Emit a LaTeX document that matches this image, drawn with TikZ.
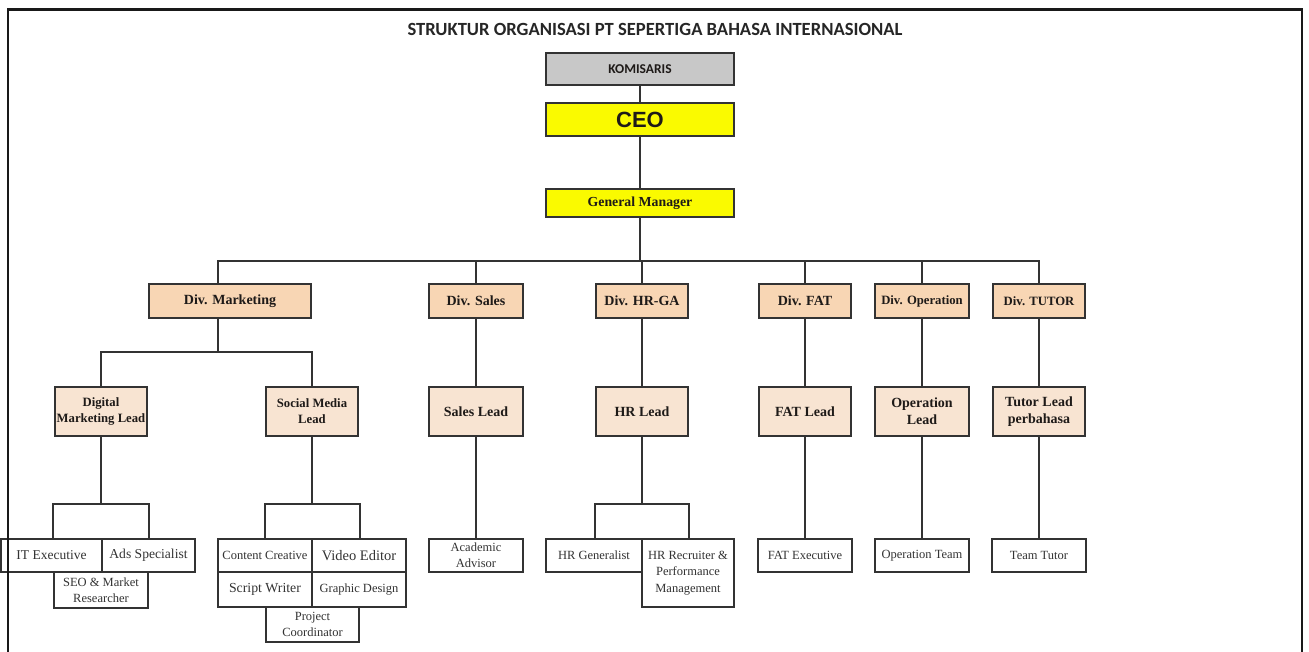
\documentclass[tikz,border=0pt]{standalone}
\usepackage{fontspec}
\setmainfont{Liberation Serif}
\newfontfamily\carlito{Carlito}
\newfontfamily\arialf{Liberation Sans}
\definecolor{divc}{HTML}{F8D6B4}
\definecolor{leadc}{HTML}{F8E4D2}
\definecolor{komc}{HTML}{C8C8C8}
\definecolor{ceoc}{HTML}{FAFA00}
\definecolor{linec}{HTML}{333333}
\definecolor{txtc}{HTML}{1E1A18}
\tikzset{
  box/.style={draw=linec, line width=2pt, inner sep=0pt, align=center, text=txtc},
  topbox/.style={box, minimum width=188pt},
  divbox/.style={box, fill=divc, minimum height=34pt, font=\bfseries\fontsize{14}{16}\selectfont},
  leadbox/.style={box, fill=leadc, minimum height=49pt, font=\bfseries\fontsize{14}{17}\selectfont},
  staff/.style={box, fill=white, minimum height=33pt, font=\fontsize{12.5}{16.3}\selectfont, text=black!80},
  conn/.style={draw=linec, line width=2pt},
}
\begin{document}
\begin{tikzpicture}[x=1pt,y=-1pt]
\useasboundingbox (0,0) rectangle (1309,652);
\fill[white] (0,0) rectangle (1309,652);

% title
\node[font=\carlito\bfseries\fontsize{18.6}{20}\selectfont, text=black!85] (title) at (655,29) {STRUKTUR ORGANISASI PT SEPERTIGA BAHASA INTERNASIONAL};

% top
\node[topbox, fill=komc, minimum height=32pt, font=\carlito\bfseries\fontsize{13.5}{15}\selectfont] (kom) at (640,69) {KOMISARIS};
\node[topbox, fill=ceoc, minimum height=33pt, font=\arialf\bfseries\fontsize{22}{24}\selectfont] (ceo) at (640,119.5) {CEO};
\node[topbox, fill=ceoc, minimum height=28pt, font=\bfseries\fontsize{13.8}{16}\selectfont] (gm) at (640,203) {General Manager};

% divisions
\node[divbox, minimum width=162pt] (dmkt) at (230,301) {Div. Marketing};
\node[divbox, minimum width=94pt] (dsal) at (476,301) {Div. Sales};
\node[divbox, minimum width=92pt] (dhr) at (642,301) {Div. HR-GA};
\node[divbox, minimum width=92pt] (dfat) at (805,301) {Div. FAT};
\node[divbox, minimum width=94pt, font=\bfseries\fontsize{12.7}{15}\selectfont] (dops) at (922,301) {Div. Operation};
\node[divbox, minimum width=92pt, font=\bfseries\fontsize{12.7}{15}\selectfont] (dtut) at (1039,301) {Div. TUTOR};

% leads
\node[leadbox, minimum width=92pt, font=\bfseries\fontsize{12.7}{15.7}\selectfont] (ldm) at (101,411.5) {Digital\\Marketing Lead};
\node[leadbox, minimum width=92pt, font=\bfseries\fontsize{12.7}{15.7}\selectfont] (lsm) at (312,411.5) {Social Media\\Lead};
\node[leadbox, minimum width=94pt] (lsal) at (476,411.5) {Sales Lead};
\node[leadbox, minimum width=92pt] (lhr) at (642,411.5) {HR Lead};
\node[leadbox, minimum width=92pt] (lfat) at (805,411.5) {FAT Lead};
\node[leadbox, minimum width=94pt] (lops) at (922,411.5) {Operation\\Lead};
\node[leadbox, minimum width=92pt] (ltut) at (1039,411.5) {Tutor Lead\\perbahasa};

% staff - digital marketing
\node[staff, minimum width=101pt, font=\fontsize{13.5}{16}\selectfont] (itx) at (51.5,555.5) {IT Executive};
\node[staff, minimum width=93pt, font=\fontsize{13.6}{16}\selectfont] (ads) at (148.5,555.5) {Ads Specialist};
\node[staff, minimum width=94pt, minimum height=36pt] (seo) at (101,590) {SEO \& Market\\Researcher};
% staff - social media
\node[staff, minimum width=94pt] (cc) at (265,555.5) {Content Creative};
\node[staff, minimum width=94pt, font=\fontsize{14.5}{16}\selectfont] (ve) at (359,555.5) {Video Editor};
\node[staff, minimum width=94pt, minimum height=35pt, font=\fontsize{13.8}{16}\selectfont] (sw) at (265,589.5) {Script Writer};
\node[staff, minimum width=94pt, minimum height=35pt] (gd) at (359,589.5) {Graphic Design};
\node[staff, minimum width=93pt, minimum height=35pt] (pc) at (312.5,624.5) {Project\\Coordinator};
% staff - others
\node[staff, minimum width=94pt] (aca) at (476,555.5) {Academic\\Advisor};
\node[staff, minimum width=96pt] (hrg) at (594,555.5) {HR Generalist};
\node[staff, minimum width=92pt, minimum height=68pt] (hrr) at (688,573) {HR Recruiter \&\\Performance\\Management};
\node[staff, minimum width=94pt] (fte) at (805,555.5) {FAT Executive};
\node[staff, minimum width=94pt] (opt) at (922,555.5) {Operation Team};
\node[staff, minimum width=94pt] (tt) at (1039,555.5) {Team Tutor};

% connectors - top
\draw[conn] (kom.south) -- (ceo.north);
\draw[conn] (ceo.south) -- (gm.north);
\coordinate (bus) at (640,261);
\draw[conn] (gm.south) -- (bus);
\draw[conn] ([xshift=-12pt]dmkt.north) |- (bus) -| (dtut.north);
\foreach \d in {dsal,dhr,dfat,dops} \draw[conn] (\d.north) -- (\d.north |- bus);

% connectors - divisions to leads
\coordinate (mbus) at (218,352);
\draw[conn] ([xshift=-12pt]dmkt.south) -- (mbus);
\draw[conn] (ldm.north) |- (mbus) -| (lsm.north);
\draw[conn] (dsal.south) -- (lsal.north);
\draw[conn] (dhr.south) -- (lhr.north);
\draw[conn] (dfat.south) -- (lfat.north);
\draw[conn] (dops.south) -- (lops.north);
\draw[conn] (dtut.south) -- (ltut.north);

% connectors - leads to staff
\coordinate (dmbus) at (101,504);
\draw[conn] (ldm.south) -- (dmbus);
\draw[conn] (itx.north -| seo.west) |- (dmbus) -| (ads.north -| seo.east);
\coordinate (smbus) at (312,504);
\draw[conn] (lsm.south) -- (smbus);
\draw[conn] (cc.north -| pc.west) |- (smbus) -| (ve.north -| pc.east);
\coordinate (hrbus) at (642,504);
\draw[conn] (lhr.south) -- (hrbus);
\draw[conn] (hrg.north -| lhr.west) |- (hrbus) -| (hrr.north -| lhr.east);
\draw[conn] (lsal.south) -- (aca.north);
\draw[conn] (lfat.south) -- (fte.north);
\draw[conn] (lops.south) -- (opt.north);
\draw[conn] (ltut.south) -- (tt.north);

% frame
\draw[line width=2.6pt, black!90] (8,652) -- (8,9.5) -- (1302,9.5) -- (1302,652);
\end{tikzpicture}
\end{document}
